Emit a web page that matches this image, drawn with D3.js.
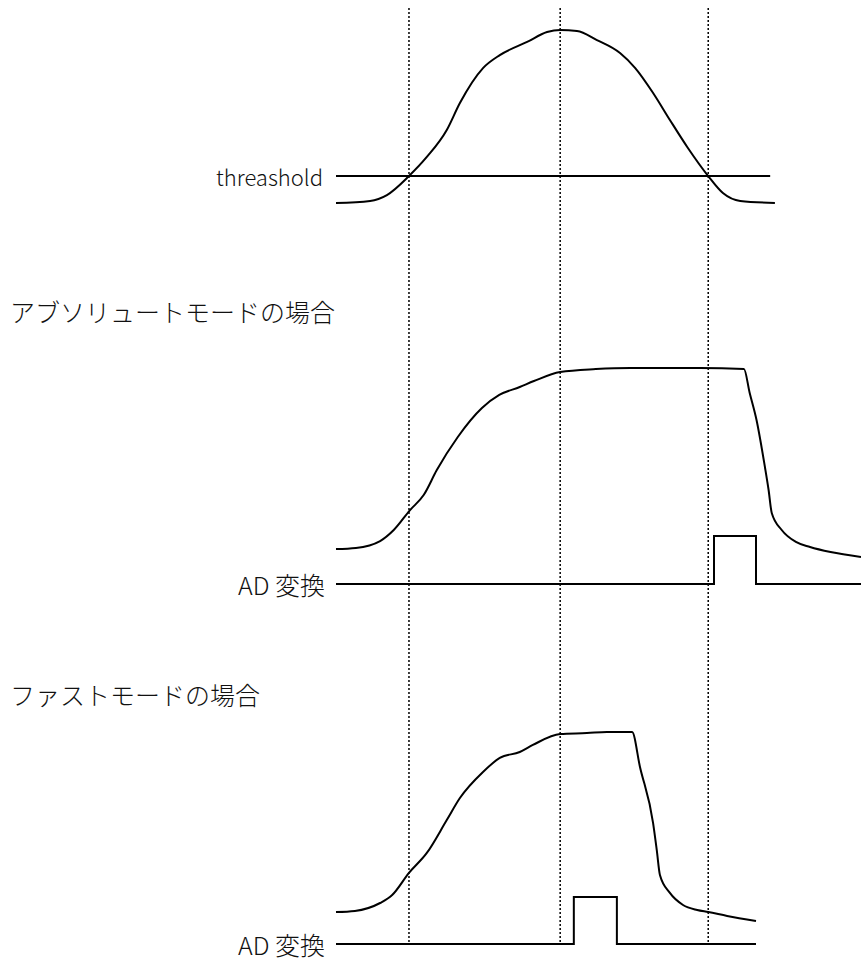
<!DOCTYPE html>
<html>
<head>
<meta charset="utf-8">
<script src="https://cdn.jsdelivr.net/npm/d3@7/dist/d3.min.js"></script>
<style>
  html, body { margin: 0; padding: 0; background: #fff; }
  svg { display: block; }
  text { font-family: "Noto Sans CJK JP", "Noto Sans", sans-serif; font-weight: 300; fill: #111; }
</style>
</head>
<body>
<svg id="chart" width="861" height="962"></svg>
<script>
// ---- Data (time in arbitrary units 0..100, level normalised 0..1) ----
const markerTimes = [13.9, 42.7, 70.9];

const thresholdLevel = 0.156;
const thresholdSpan = [0, 82.7];
const thresholdLabel = "threashold";

const inputT = [0, 6.5, 9.7, 13.9, 17.3, 21.1, 23.6, 28.0, 31.2, 36.4, 40.2, 42.7, 45.9, 49.7, 54.1, 57.0, 60.4, 63.6, 66.9, 70.9, 73.7, 77.0, 83.6];
const inputV = [0, 0.012, 0.046, 0.156, 0.266, 0.422, 0.578, 0.780, 0.855, 0.931, 0.988, 1.0, 0.994, 0.942, 0.867, 0.780, 0.636, 0.480, 0.324, 0.156, 0.058, 0.012, 0];

const absTitle = "アブソリュートモードの場合";
const absT = [0, 3.8, 8.4, 11.0, 14.1, 16.7, 19.2, 23.2, 27.8, 31.1, 35.0, 37.7, 42.7, 49.5, 56.1, 69.3, 77.7, 78.8, 80.1, 81.7, 82.4, 83.0, 84.9, 87.6, 90.3, 94.2, 100];
const absV = [0, 0.006, 0.044, 0.105, 0.215, 0.298, 0.436, 0.619, 0.779, 0.851, 0.895, 0.928, 0.978, 0.994, 1.0, 1.0, 0.994, 0.862, 0.713, 0.453, 0.326, 0.199, 0.105, 0.039, 0.011, -0.017, -0.044];
const absAdT = [0, 72.0, 80.0, 100];
const absAdV = [0, 1, 0, 0];

const fastTitle = "ファストモードの場合";
const fastT = [0, 3.6, 8.4, 10.7, 13.9, 17.3, 21.1, 23.6, 28.0, 31.2, 35.0, 37.5, 42.7, 47.8, 51.6, 56.4, 57.9, 60.4, 61.1, 61.7, 63.6, 66.1, 68.8, 70.9, 74.5, 80.0];
const fastV = [0, 0.006, 0.05, 0.094, 0.217, 0.328, 0.511, 0.633, 0.778, 0.856, 0.889, 0.928, 0.989, 0.994, 1.0, 1.0, 0.806, 0.494, 0.344, 0.206, 0.106, 0.039, 0.011, 0, -0.022, -0.05];
const fastAdT = [0, 45.3, 53.5, 80.0];
const fastAdV = [0, 1, 0, 0];

const adLabel = "AD 変換";

// ---- Layout ----
const svg = d3.select("#chart");
const x = d3.scaleLinear().domain([0, 100]).range([336, 861]);

const yTop  = d3.scaleLinear().domain([0, 1]).range([203, 30]);
const yAbs  = d3.scaleLinear().domain([0, 1]).range([549, 368]);
const yFast = d3.scaleLinear().domain([0, 1]).range([912, 732]);
const yAdAbs  = d3.scaleLinear().domain([0, 1]).range([584, 536]);
const yAdFast = d3.scaleLinear().domain([0, 1]).range([944, 897]);

const zip = (ts, vs) => ts.map((t, i) => ({ t, v: vs[i] }));

function drawAnalog(ts, vs, yScale) {
  const line = d3.line().x(d => x(d.t)).y(d => yScale(d.v)).curve(d3.curveMonotoneX);
  svg.append("path").datum(zip(ts, vs))
    .attr("d", line).attr("fill", "none")
    .attr("stroke", "#000").attr("stroke-width", 2).attr("stroke-linejoin", "round");
}
function drawDigital(ts, vs, yScale) {
  const line = d3.line().x(d => x(d.t)).y(d => yScale(d.v)).curve(d3.curveStepAfter);
  svg.append("path").datum(zip(ts, vs))
    .attr("d", line).attr("fill", "none")
    .attr("stroke", "#000").attr("stroke-width", 2);
}

// dotted marker lines
svg.append("g").selectAll("line").data(markerTimes).join("line")
  .attr("x1", d => x(d)).attr("x2", d => x(d))
  .attr("y1", 8).attr("y2", 945)
  .attr("stroke", "#000").attr("stroke-width", 1.5)
  .attr("stroke-dasharray", "2,2");

// top panel
svg.append("line")
  .attr("x1", x(thresholdSpan[0])).attr("x2", x(thresholdSpan[1]))
  .attr("y1", yTop(thresholdLevel)).attr("y2", yTop(thresholdLevel))
  .attr("stroke", "#000").attr("stroke-width", 2);
drawAnalog(inputT, inputV, yTop);
svg.append("text").attr("x", x(0) - 13).attr("y", yTop(thresholdLevel))
  .attr("text-anchor", "end").attr("dominant-baseline", "central")
  .attr("font-size", 22).text(thresholdLabel);

// absolute mode
svg.append("text").attr("x", 10).attr("y", 322).attr("font-size", 25).text(absTitle);
drawAnalog(absT, absV, yAbs);
drawDigital(absAdT, absAdV, yAdAbs);
svg.append("text").attr("x", x(0) - 11).attr("y", yAdAbs(0))
  .attr("text-anchor", "end").attr("dominant-baseline", "central")
  .attr("font-size", 25).text(adLabel);

// fast mode
svg.append("text").attr("x", 10).attr("y", 705).attr("font-size", 25).text(fastTitle);
drawAnalog(fastT, fastV, yFast);
drawDigital(fastAdT, fastAdV, yAdFast);
svg.append("text").attr("x", x(0) - 11).attr("y", yAdFast(0))
  .attr("text-anchor", "end").attr("dominant-baseline", "central")
  .attr("font-size", 25).text(adLabel);
</script>
</body>
</html>
